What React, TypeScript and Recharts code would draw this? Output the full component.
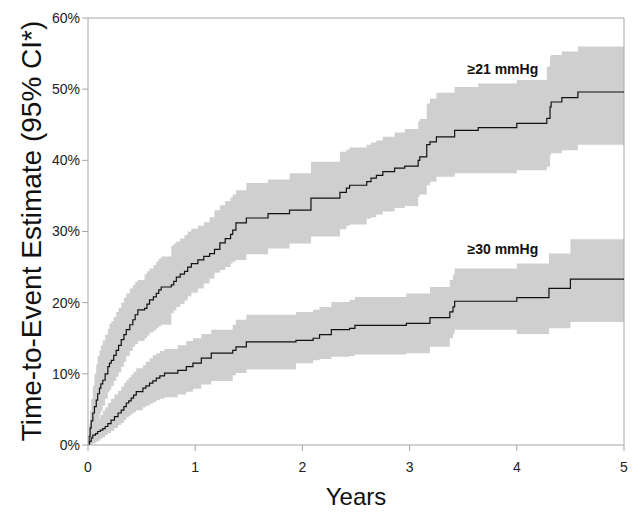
import React from "react";
import {
  Area,
  ComposedChart,
  Line,
  ReferenceDot,
  ReferenceLine,
  XAxis,
  YAxis,
} from "recharts";

// >=21 mmHg group (time in years, estimate / 95% CI in %)
const years21 = [
  0, 0.01, 0.02, 0.03, 0.045, 0.06, 0.077, 0.09, 0.107, 0.12, 0.138, 0.16, 0.185, 0.2, 0.217,
  0.24, 0.263, 0.285, 0.31, 0.335, 0.357, 0.39, 0.418, 0.44, 0.465, 0.528, 0.55, 0.574, 0.61,
  0.637, 0.66, 0.683, 0.777, 0.8, 0.824, 0.86, 0.9, 0.93, 0.964, 1.025, 1.08, 1.134, 1.18, 1.23,
  1.28, 1.33, 1.35, 1.38, 1.477, 1.68, 1.88, 2.08, 2.35, 2.41, 2.44, 2.6, 2.64, 2.69, 2.75, 2.86,
  2.955, 3.08, 3.095, 3.16, 3.19, 3.25, 3.42, 3.64, 4.0, 4.28, 4.31, 4.32, 4.42, 4.57, 5.0,
];
const est21 = [
  0, 1.2, 2.4, 3.4, 4.5, 5.4, 6.3, 7.2, 8.0, 8.6, 9.1, 10.0, 11.0, 11.5, 11.9,
  12.6, 13.3, 14.0, 14.8, 15.5, 16.2, 16.9, 17.6, 18.3, 19.0, 19.2, 19.8, 20.4, 20.8,
  21.3, 21.8, 22.2, 22.5, 23.0, 23.6, 24.0, 24.4, 25.0, 25.5, 26.0, 26.5, 26.9, 27.5, 28.4,
  29.0, 29.6, 30.2, 31.2, 31.9, 32.5, 33.0, 34.7, 35.5, 36.1, 36.5, 37.0, 37.5, 37.9, 38.4, 38.9,
  39.2, 40.0, 40.5, 42.2, 42.6, 43.3, 44.2, 44.6, 45.2, 45.9, 47.5, 48.2, 48.8, 49.6, 49.6,
];
const lo21 = [
  0, 0.2, 0.4, 0.8, 1.5, 2.2, 3.0, 3.6, 4.3, 4.8, 5.5, 6.5, 7.4, 7.8, 8.3,
  9.0, 9.6, 10.2, 11.0, 11.7, 12.5, 13.2, 13.8, 14.2, 14.6, 15.0, 15.4, 15.8, 16.1,
  16.4, 16.7, 16.9, 18.5, 18.9, 19.4, 19.8, 20.3, 20.9, 21.4, 22.0, 22.7, 23.4, 24.2, 24.6,
  25.0, 25.5, 25.8, 26.0, 26.8, 27.6, 28.3, 29.3, 30.3, 30.8, 31.0, 31.8, 32.0, 32.4, 32.8, 33.3,
  33.6, 34.9, 35.2, 36.5, 37.0, 37.7, 38.2, 38.2, 38.6, 39.1, 40.7, 41.0, 41.4, 42.2, 42.2,
];
const hi21 = [
  0, 3.0, 4.8, 6.5, 8.3, 10.0, 11.3, 12.5, 13.3, 14.0, 14.7, 15.5, 16.3, 17.0, 17.4,
  18.0, 18.7, 19.3, 20.0, 20.7, 21.3, 22.0, 22.5, 22.9, 23.2, 24.0, 24.4, 24.8, 25.3,
  25.8, 26.2, 26.5, 28.0, 28.3, 28.6, 29.0, 29.5, 30.0, 30.4, 30.8, 31.3, 32.0, 33.0, 33.7,
  34.3, 34.8, 35.2, 35.8, 36.8, 37.3, 38.2, 39.8, 41.2, 41.5, 41.8, 42.2, 42.5, 42.8, 43.3, 43.9,
  44.4, 45.5, 45.8, 48.0, 48.7, 49.5, 50.3, 50.8, 51.3, 53.2, 54.6, 54.8, 55.3, 56.0, 56.0,
];

// >=30 mmHg group
const years30 = [
  0, 0.015, 0.03, 0.045, 0.07, 0.09, 0.115, 0.138, 0.16, 0.185, 0.215, 0.247, 0.28, 0.31, 0.335,
  0.357, 0.38, 0.403, 0.425, 0.45, 0.512, 0.54, 0.574, 0.605, 0.637, 0.67, 0.714, 0.838, 0.917,
  0.979, 1.057, 1.15, 1.35, 1.38, 1.477, 1.94, 2.1, 2.16, 2.27, 2.44, 2.49, 2.97, 3.19, 3.375,
  3.405, 3.42, 4.0, 4.3, 4.5, 5.0,
];
const est30 = [
  0, 0.5, 1.0, 1.4, 1.6, 1.9, 2.1, 2.3, 2.6, 3.0, 3.5, 4.0, 4.5, 4.9, 5.4,
  5.9, 6.2, 6.6, 7.0, 7.5, 8.0, 8.3, 8.7, 9.0, 9.4, 9.7, 10.1, 10.5, 11.0,
  11.5, 12.2, 12.9, 13.3, 13.8, 14.5, 14.7, 15.0, 15.5, 16.2, 16.4, 16.8, 17.1, 17.9, 18.7,
  19.4, 20.2, 20.7, 22.0, 23.3, 23.3,
];
const lo30 = [
  0, 0, 0.1, 0.2, 0.4, 0.6, 0.9, 1.1, 1.4, 1.7, 2.0, 2.4, 2.8, 3.1, 3.5,
  3.9, 4.1, 4.4, 4.6, 4.9, 5.3, 5.5, 5.8, 6.0, 6.3, 6.5, 6.7, 7.1, 7.5,
  7.9, 8.5, 9.0, 9.8, 10.1, 10.6, 11.5, 11.9, 12.1, 12.4, 12.5, 12.7, 12.9, 13.8, 15.0,
  15.6, 16.2, 15.6, 16.4, 17.3, 17.3,
];
const hi30 = [
  0, 1.5, 2.2, 2.7, 3.2, 3.7, 4.2, 4.8, 5.3, 5.9, 6.5, 7.1, 7.6, 8.2, 8.7,
  9.1, 9.5, 9.9, 10.3, 10.8, 11.2, 11.7, 12.2, 12.6, 12.9, 13.2, 13.5, 14.0, 14.6,
  15.0, 15.6, 16.2, 16.9, 17.6, 18.3, 18.7, 19.0, 19.4, 20.1, 20.4, 20.8, 21.3, 22.2, 23.2,
  24.0, 24.8, 25.5, 26.9, 28.9, 28.9,
];

const xTicks = [0, 1, 2, 3, 4, 5];
const yTicks = [0, 10, 20, 30, 40, 50, 60];

const rows21 = years21.map((t, i) => ({ t, est: est21[i], lo: lo21[i], hi: hi21[i] }));
const rows30 = years30.map((t, i) => ({ t, est: est30[i], lo: lo30[i], hi: hi30[i] }));

const FONT = "'Liberation Sans', Arial, sans-serif";
const AXIS = "#a6a6a6";
const BAND = "#cfcfcf";

function groupLabel(text: string) {
  return (p: any) => (
    <text
      x={p.cx}
      y={p.cy}
      textAnchor="middle"
      fontFamily={FONT}
      fontWeight="bold"
      fontSize={14}
      fill="#111"
    >
      {text}
    </text>
  );
}

export default function App() {
  return (
    <div style={{ margin: "-8px 0 0 -8px", width: 638, height: 520, background: "#fff" }}>
      <ComposedChart
        width={638}
        height={520}
        margin={{ top: 18, right: 14, left: 20, bottom: 0 }}
      >
        <XAxis
          type="number"
          dataKey="t"
          domain={[0, 5]}
          ticks={xTicks}
          allowDataOverflow
          height={75}
          stroke={AXIS}
          tickSize={6}
          tickMargin={11}
          tick={{ fill: "#222", fontSize: 14, fontFamily: FONT }}
          label={{
            value: "Years",
            position: "insideBottom",
            offset: 15,
            fill: "#111",
            fontSize: 24,
            fontFamily: FONT,
          }}
        />
        <YAxis
          type="number"
          domain={[0, 60]}
          ticks={yTicks}
          allowDataOverflow
          width={68}
          stroke={AXIS}
          tickSize={6}
          tickFormatter={(v) => `${v}%`}
          tick={{ fill: "#222", fontSize: 14, fontFamily: FONT }}
          label={{
            content: () => (
              <text
                x={31}
                y={231}
                transform="rotate(-90 31 231)"
                textAnchor="middle"
                dominantBaseline="central"
                fontFamily={FONT}
                fontSize={28}
                fill="#111"
              >
                Time-to-Event Estimate (95% CI*)
              </text>
            ),
          }}
        />
        <ReferenceLine y={60} stroke={AXIS} />
        <ReferenceLine x={5} stroke={AXIS} />
        <Area
          data={rows21}
          dataKey={(d: any) => [d.lo, d.hi]}
          type="stepAfter"
          stroke="none"
          fill={BAND}
          fillOpacity={1}
          isAnimationActive={false}
        />
        <Area
          data={rows30}
          dataKey={(d: any) => [d.lo, d.hi]}
          type="stepAfter"
          stroke="none"
          fill={BAND}
          fillOpacity={1}
          isAnimationActive={false}
        />
        <Line
          data={rows21}
          dataKey="est"
          type="stepAfter"
          stroke="#111"
          strokeWidth={1.2}
          dot={false}
          isAnimationActive={false}
        />
        <Line
          data={rows30}
          dataKey="est"
          type="stepAfter"
          stroke="#111"
          strokeWidth={1.2}
          dot={false}
          isAnimationActive={false}
        />
        <ReferenceDot x={3.87} y={52.1} r={0} shape={groupLabel("≥21 mmHg")} />
        <ReferenceDot x={3.87} y={26.8} r={0} shape={groupLabel("≥30 mmHg")} />
      </ComposedChart>
    </div>
  );
}
